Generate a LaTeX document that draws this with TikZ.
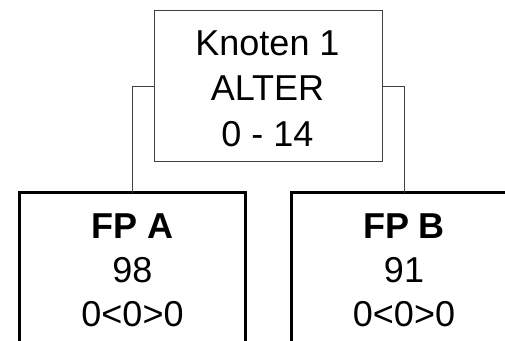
\documentclass[tikz,border=0pt]{standalone}
\usepackage{fontspec}
\setmainfont{Liberation Sans}
\begin{document}
\begin{tikzpicture}[x=1pt,y=-1pt,
  thinbox/.style={draw=black!75,line width=1pt,inner sep=0pt,outer sep=0pt,fill=white},
  thickbox/.style={draw=black,line width=3pt,inner sep=0pt,outer sep=0pt},
  conn/.style={draw=black!75,line width=1pt},
  txt/.style={font=\fontsize{36}{40}\selectfont,anchor=base,inner sep=0pt},
  btxt/.style={txt,font=\fontsize{36}{40}\selectfont\bfseries}]
\useasboundingbox (0,0) rectangle (505,340);
\clip (0,0) rectangle (505,340);
\node[thinbox,minimum width=227.3pt,minimum height=151pt] (top) at (268.4,86.4) {};
\node[thickbox,minimum width=225.4pt,minimum height=220pt] (fpa) at (132.5,302.5) {};
\node[thickbox,minimum width=225pt,minimum height=220pt] (fpb) at (404,302.5) {};
\draw[conn] (top.west) -| (fpa.north);
\draw[conn] (top.east) -| (fpb.north);
\node[txt] (t1) at (267.5,55) {Knoten 1};
\node[txt] (t2) at (267.5,100.7) {ALTER};
\node[txt] (t3) at (267.5,146.7) {0 - 14};
\node[btxt] (a1) at (132.5,238) {FP A};
\node[txt] (a2) at (132.5,282.7) {98};
\node[txt] (a3) at (132.5,326.7) {0<0>0};
\node[btxt] (b1) at (404,238) {FP B};
\node[txt] (b2) at (404,282.7) {91};
\node[txt] (b3) at (404,326.7) {0<0>0};
\end{tikzpicture}
\end{document}
